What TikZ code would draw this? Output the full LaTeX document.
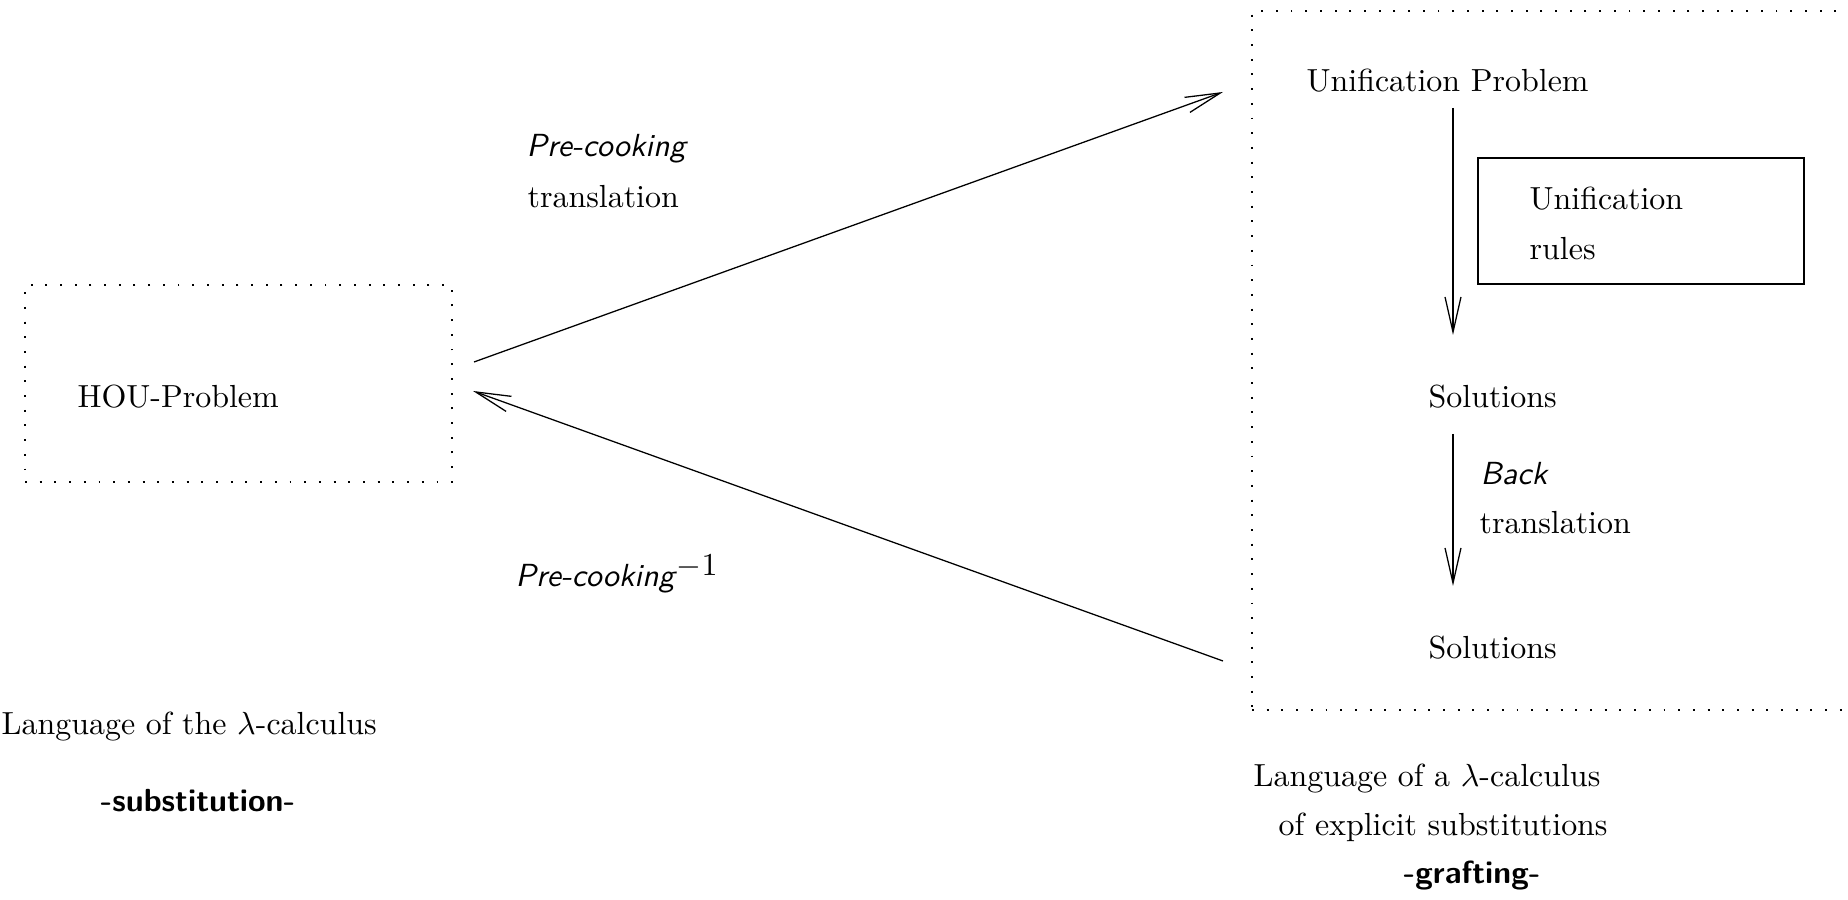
\documentclass[tikz,border=0pt]{standalone}
\usetikzlibrary{arrows.meta,positioning}

\tikzset{
  barb/.style={-{Straight Barb[length=11pt,width=5pt]}, line width=0.4pt},
  dotbox/.style={draw, rectangle, inner sep=0pt, line width=0.6pt, dash pattern=on 0.6pt off 4pt},
  txt/.style={anchor=base west, inner sep=0pt},
}

\begin{document}
\begin{tikzpicture}[x=0.011cm, y=-0.011cm, font=\fontsize{10}{12}\selectfont]
    \useasboundingbox (0,0) rectangle (1848,900);
    \clip (0,0) rectangle (1848,900);
    % the two languages
    \node[dotbox, minimum width=4.697cm, minimum height=2.167cm] (houbox) at (238.5,383.5) {};
    \node[dotbox, minimum width=6.644cm, minimum height=7.689cm] (xbox) at (1554,360.5) {};
    \node[draw, line width=0.45pt, minimum width=3.586cm, minimum height=1.386cm] (rulesbox) at (1641,221) {};
    \node[txt] (hou) at (77,408) {HOU-Problem};
    \foreach \n/\x/\y/\t in {up/1306/92/Unification Problem, unif/1529/210/Unification, rules/1529/260/rules,
                             sol1/1428/408/Solutions, sol2/1428/659/Solutions, btrans/1479/534/translation}
        {\node[txt] (\n) at (\x,\y) {\t};}
    \node[txt] (back) at (1480,485) {\textsf{\textit{Back}}};
    % labels of the translations
    \node[txt] (pc) at (526,157) {\textsf{\textit{Pre-cooking}}};
    \node[txt] (pctrans) at (527,208) {translation};
    \node[txt] (pcinv) at (515,587) {\textsf{\textit{Pre-cooking}}\raisebox{3.5pt}{$-1$}};
    % captions
    \foreach \n/\x/\y/\t in {langl/1/735/Language of the $\lambda$-calculus, langr/1253/787/Language of a $\lambda$-calculus,
                             langr2/1278/836/of explicit substitutions}
        {\node[txt] (\n) at (\x,\y) {\t};}
    \node[txt] (subst) at (100,812) {\textsf{\textbf{-substitution-}}};
    \node[txt] (graft) at (1403,884) {\textsf{\textbf{-grafting-}}};
    % arrows
    \coordinate (pcs) at (474,362);   \coordinate (pce) at (1223,92);
    \coordinate (pis) at (1223,661);  \coordinate (pie) at (473,391);
    \coordinate (u1) at (1453,108);   \coordinate (u2) at (1453,335);
    \coordinate (b1) at (1453,434);   \coordinate (b2) at (1453,586);
    \draw[barb] (pcs) -- (pce);
    \draw[barb] (pis) -- (pie);
    \draw[barb] (u1) -- (u2);
    \draw[barb] (b1) -- (b2);
\end{tikzpicture}
\end{document}
